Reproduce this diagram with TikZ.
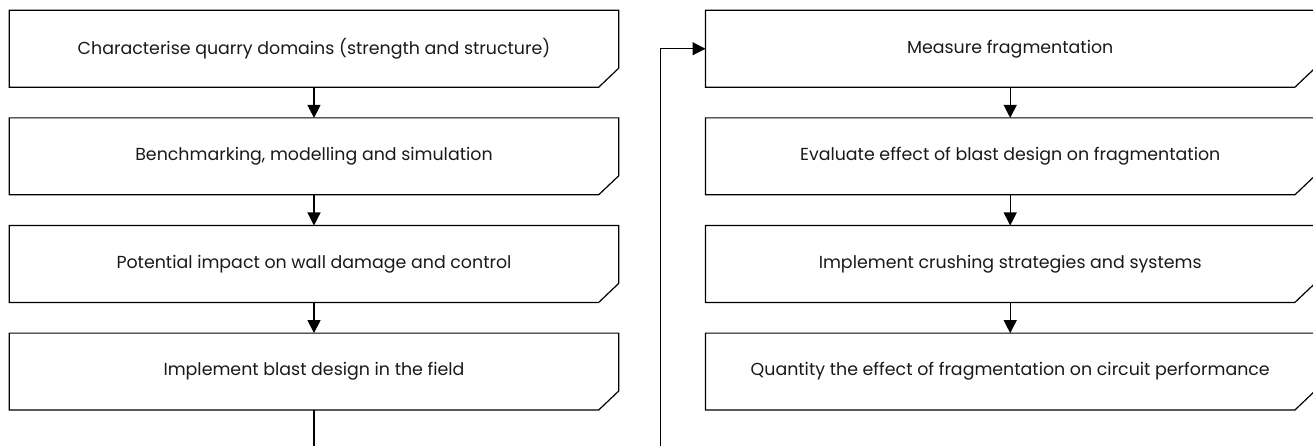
\documentclass[tikz,border=0pt]{standalone}
\usepackage{fontspec}
\setmainfont{Poppins}
\usetikzlibrary{arrows.meta}
\begin{document}
\begin{tikzpicture}[x=1pt,y=-1pt,
  stepbox/.style={minimum width=609pt, minimum height=76.5pt, inner sep=0pt,
    font=\fontsize{17.4}{20}\selectfont, text=black!90},
  conn/.style={line width=1.2pt, draw=black},
  arr/.style={conn, -{Triangle[length=13pt,width=13pt]}}]
\useasboundingbox (0,0) rectangle (1313,446);
\node[stepbox] (l1) at (314,48.75) {Characterise quarry domains (strength and structure)};
\node[stepbox] (l2) at (314,156.35) {Benchmarking, modelling and simulation};
\node[stepbox] (l3) at (314,263.95) {Potential impact on wall damage and control};
\node[stepbox] (l4) at (314,371.55) {Implement blast design in the field};
\node[stepbox] (r1) at (1010.2,48.75) {Measure fragmentation};
\node[stepbox] (r2) at (1010.2,156.35) {Evaluate effect of blast design on fragmentation};
\node[stepbox] (r3) at (1010.2,263.95) {Implement crushing strategies and systems};
\node[stepbox] (r4) at (1010.2,371.55) {Quantity the effect of fragmentation on circuit performance};
\foreach \n in {l1,l2,l3,l4,r1,r2,r3,r4}{
  \draw[conn, line join=miter] (\n.north west) -- (\n.north east) -- ([yshift=19pt]\n.south east)
    -- ([xshift=-20pt]\n.south east) -- (\n.south west) -- cycle;
}
\coordinate (lend) at (314,447);
\coordinate (rstart) at (660.7,447);
\coordinate (rbend) at (660.7,48.75);
\draw[arr] (l1) -- (l2);
\draw[arr] (l2) -- (l3);
\draw[arr] (l3) -- (l4);
\draw[arr] (r1) -- (r2);
\draw[arr] (r2) -- (r3);
\draw[arr] (r3) -- (r4);
\draw[conn] (l4) -- (lend);
\draw[arr] (rstart) -- (rbend) -- (r1);
\end{tikzpicture}
\end{document}
